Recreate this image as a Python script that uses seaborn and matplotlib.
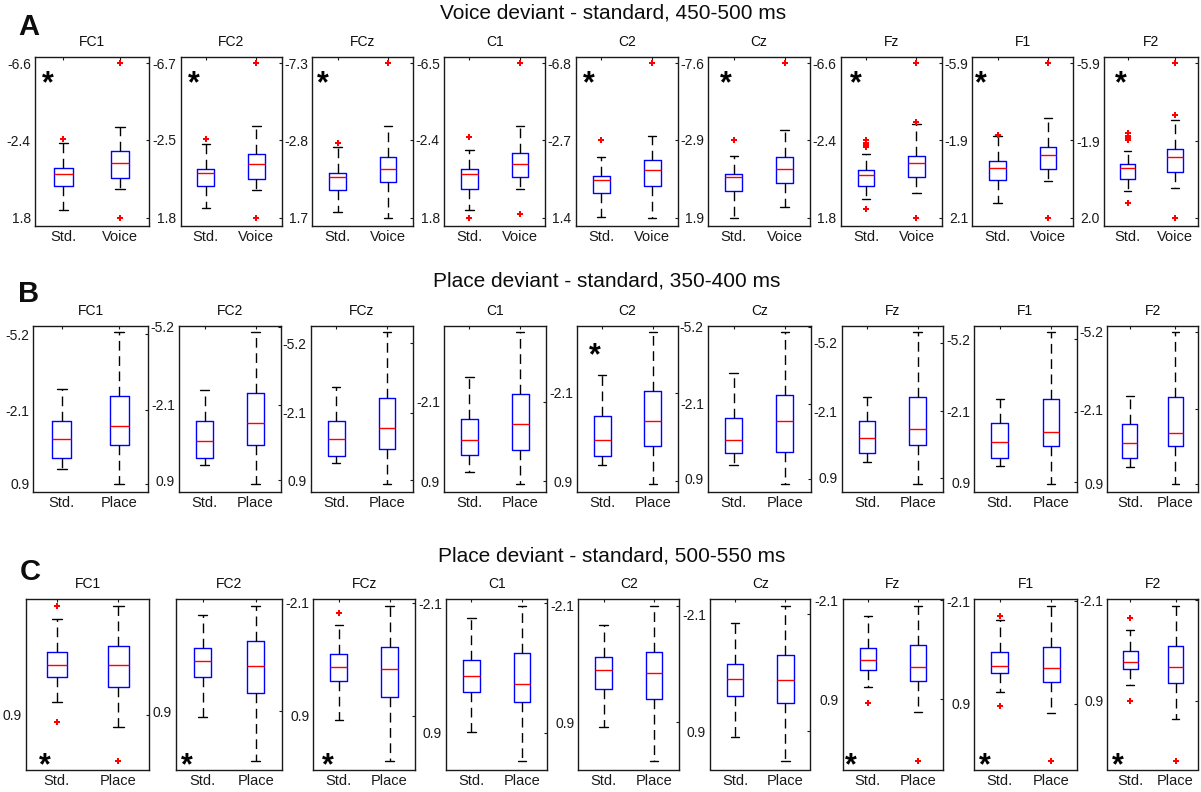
import numpy as np
import pandas as pd
import matplotlib
matplotlib.use("Agg")
import matplotlib.pyplot as plt
import seaborn as sns

electrodes = ["FC1", "FC2", "FCz", "C1", "C2", "Cz", "Fz", "F1", "F2"]

# box summaries per electrode: [lower whisker, q1, median, q3, upper whisker]
# (amplitude axis is drawn negative-up)

# A: voice deviant - standard, 450-500 ms
voice_std = [[-2.24, -0.90, -0.60, 0.08, 1.40], [-2.23, -0.90, -0.63, 0.06, 1.27],
             [-2.43, -0.93, -0.67, 0.12, 1.39], [-1.83, -0.80, -0.57, 0.24, 1.41],
             [-1.83, -0.81, -0.59, 0.12, 1.37], [-1.90, -0.81, -0.60, 0.28, 1.90],
             [-1.64, -0.78, -0.54, 0.08, 0.80], [-2.14, -0.82, -0.48, 0.13, 1.32],
             [-1.40, -0.72, -0.54, 0.04, 0.65]]
voice_std_out = [[-2.47], [-2.52], [-2.68], [-2.54, 1.80], [-2.72], [-2.87],
                 [-2.42, -2.29, -2.18, -2.05, 1.35], [-2.21],
                 [-2.31, -2.19, -2.08, -1.97, 1.28]]
voice_dev = [[-3.14, -1.82, -1.15, -0.33, 0.26], [-3.26, -1.68, -1.18, -0.31, 0.29],
             [-3.65, -1.84, -1.14, -0.40, 1.70], [-3.14, -1.65, -1.06, -0.39, 0.28],
             [-2.94, -1.65, -1.12, -0.28, 1.40], [-3.49, -1.84, -1.08, -0.20, 1.25],
             [-3.30, -1.56, -1.15, -0.41, 0.44], [-3.07, -1.57, -1.17, -0.41, 0.21],
             [-2.99, -1.50, -1.11, -0.34, 0.48]]
voice_dev_out = [[-6.6, 1.8], [-6.7, 1.8], [-7.3], [-6.5, 1.59], [-6.8], [-7.6],
                 [-6.6, -3.40, 1.8], [-5.9, 2.1], [-5.9, -3.28, 2.0]]
voice_ticks = [[-6.6, -2.4, 1.8], [-6.7, -2.5, 1.8], [-7.3, -2.8, 1.7], [-6.5, -2.4, 1.8],
               [-6.8, -2.7, 1.4], [-7.6, -2.9, 1.9], [-6.6, -2.4, 1.8], [-5.9, -1.9, 2.1],
               [-5.9, -1.9, 2.0]]
voice_stars = [1, 1, 1, 0, 1, 1, 1, 1, 1]

# B: place deviant - standard, 350-400 ms
p350_std = [[-2.98, -1.66, -0.94, -0.16, 0.29], [-2.71, -1.46, -0.66, 0.00, 0.30],
            [-3.24, -1.75, -0.92, -0.17, 0.15], [-3.05, -1.47, -0.65, -0.08, 0.55],
            [-2.70, -1.31, -0.49, 0.05, 0.36], [-3.32, -1.55, -0.64, -0.13, 0.37],
            [-2.74, -1.69, -0.90, -0.22, 0.18], [-2.67, -1.63, -0.81, -0.14, 0.23],
            [-2.63, -1.49, -0.74, -0.15, 0.23]]
p350_std_out = [[]] * 9
p350_dev = [[-5.27, -2.67, -1.44, -0.67, 0.90], [-4.98, -2.57, -1.38, -0.49, 1.03],
            [-5.69, -2.75, -1.41, -0.51, 1.05], [-4.73, -2.39, -1.26, -0.30, 0.99],
            [-4.15, -2.17, -1.15, -0.29, 0.98], [-4.97, -2.45, -1.42, -0.17, 1.10],
            [-5.67, -2.74, -1.30, -0.60, 1.16], [-5.50, -2.63, -1.24, -0.63, 0.97],
            [-5.18, -2.57, -1.14, -0.61, 0.90]]
p350_dev_out = [[]] * 9
p350_ticks = [[-5.2, -2.1, 0.9]] * 9
p350_stars = [0, 0, 0, 0, 1, 0, 0, 0, 0]

# C: place deviant - standard, 500-550 ms
p500_std = [[-1.49, -0.66, -0.34, -0.04, 0.59], [-1.65, -0.77, -0.42, -0.01, 1.04],
            [-1.52, -0.75, -0.40, -0.02, 1.01], [-1.77, -0.79, -0.42, -0.04, 0.89],
            [-1.61, -0.79, -0.45, 0.04, 1.01], [-1.87, -0.83, -0.44, -0.01, 1.05],
            [-1.61, -0.65, -0.30, 0.01, 0.52], [-1.56, -0.62, -0.22, 0.00, 0.56],
            [-1.22, -0.60, -0.26, -0.06, 0.44]]
p500_std_out = [[-1.83, 1.07], [], [-1.84], [], [], [], [1.02], [-1.66, 0.95], [-1.57, 0.90]]
p500_dev = [[-1.83, -0.83, -0.34, 0.21, 1.21], [-1.90, -0.95, -0.30, 0.40, 2.21],
            [-2.03, -0.93, -0.34, 0.40, 2.10], [-2.05, -0.95, -0.22, 0.20, 1.56],
            [-2.10, -0.90, -0.36, 0.30, 1.89], [-2.33, -1.05, -0.42, 0.18, 1.67],
            [-1.94, -0.73, -0.09, 0.34, 1.30], [-1.97, -0.75, -0.16, 0.26, 1.17],
            [-1.94, -0.72, -0.10, 0.37, 1.44]]
p500_dev_out = [[2.05], [], [], [], [], [], [2.77], [2.56], [2.69]]
p500_ticks = [[-2.1, 0.9]] * 9
p500_stars = [1, 1, 1, 0, 0, 0, 1, 1, 1]

rows = [
    dict(letter="A", title="Voice deviant - standard, 450-500 ms", dev="Voice",
         std=voice_std, std_out=voice_std_out, dvals=voice_dev, dev_out=voice_dev_out,
         ticks=voice_ticks, stars=voice_stars),
    dict(letter="B", title="Place deviant - standard, 350-400 ms", dev="Place",
         std=p350_std, std_out=p350_std_out, dvals=p350_dev, dev_out=p350_dev_out,
         ticks=p350_ticks, stars=p350_stars),
    dict(letter="C", title="Place deviant - standard, 500-550 ms", dev="Place",
         std=p500_std, std_out=p500_std_out, dvals=p500_dev, dev_out=p500_dev_out,
         ticks=p500_ticks, stars=p500_stars),
]

# layout in pixels
W, H = 1201, 792
row_top = [57, 326, 599]
row_bot = [226, 492, 769.5]
row_edges = [
    [(35, 148.5), (180.5, 281.7), (312.3, 413.3), (444, 545.3), (575.7, 677.7),
     (708.3, 810), (840.7, 941.7), (972.3, 1073.3), (1104, 1198.3)],
    [(33.3, 147.7), (179, 281), (310.7, 412.5), (444, 545.7), (577, 678),
     (708, 810.5), (841.7, 943), (974.3, 1076.5), (1107.3, 1198)],
    [(26, 149.3), (176, 282.3), (313.3, 415), (446, 547.3), (578.3, 679.3),
     (710, 810.5), (842.7, 943.3), (974.3, 1076.7), (1107.3, 1198.3)],
]
star_x = [[0.11, 0.13, 0.10, 0.12, 0.13, 0.17, 0.15, 0.085, 0.18],
          [0.18] * 9,
          [0.155, 0.10, 0.145, 0.12, 0.12, 0.12, 0.083, 0.098, 0.114]]
star_y = [0.893, 0.872, 0.072]
title_y = [13, 281, 556]
title_x = [613, 607, 612]
letter_xy = [(29, 27), (29, 294), (30, 572)]

sns.set_style("white", {"axes.edgecolor": "0.1", "text.color": "0.05",
                        "xtick.color": "0.1", "ytick.color": "0.1"})
plt.rcParams["font.family"] = ["Liberation Sans", "DejaVu Sans"]

fig = plt.figure(figsize=(W / 100, H / 100), dpi=100)

for r, row in enumerate(rows):
    fig.text(title_x[r] / W, 1 - title_y[r] / H, row["title"], ha="center", va="center",
             fontsize=15)
    fig.text(letter_xy[r][0] / W, 1 - letter_xy[r][1] / H, row["letter"], ha="center",
             va="center", fontsize=21, fontweight="bold")
    for i, name in enumerate(electrodes):
        l, rr = row_edges[r][i]
        t, b = row_top[r], row_bot[r]
        ax = fig.add_axes([l / W, 1 - b / H, (rr - l) / W, (b - t) / H])
        order = ["Std.", row["dev"]]
        std, dev = row["std"][i], row["dvals"][i]
        df = pd.DataFrame({"cond": [order[0]] * len(std) + [order[1]] * len(dev),
                           "amp": std + dev})
        sns.boxplot(data=df, x="cond", y="amp", order=order, whis=(0, 100), width=0.33,
                    fill=False, linewidth=1.0, ax=ax,
                    boxprops=dict(color="blue"), medianprops=dict(color="red"),
                    whiskerprops=dict(color="black", linestyle=(0, (7, 4))),
                    capprops=dict(color="black"))
        so, do = row["std_out"][i], row["dev_out"][i]
        if len(so) + len(do) > 0:
            out = pd.DataFrame({"cond": [order[0]] * len(so) + [order[1]] * len(do),
                                "amp": so + do})
            sns.stripplot(data=out, x="cond", y="amp", order=order, jitter=False,
                          marker="P", color="red", size=5, linewidth=0, ax=ax, zorder=5)

        ticks = row["ticks"][i]
        ax.set_yticks(ticks)
        ax.set_yticklabels([f"{v:.1f}" for v in ticks])
        # limits after the ticks, so ticks outside the data range stay hidden
        vals = std + dev + so + do
        lo, hi = min(vals), max(vals)
        span = hi - lo
        ax.set_ylim(hi + 0.055 * span, lo - 0.042 * span)
        ax.set_xlim(-0.5, 1.5)
        ax.set_xlabel("")
        ax.set_ylabel("")
        ax.set_title(name, fontsize=10, pad=8)
        ax.tick_params(axis="both", direction="in", length=2.5, width=0.8,
                       top=True, right=True, pad=3)
        ax.tick_params(axis="y", labelsize=10)
        ax.tick_params(axis="x", labelsize=10.5)
        for sp in ax.spines.values():
            sp.set_linewidth(1.0)
            sp.set_color("0.1")
        if row["stars"][i]:
            ax.annotate("*", xy=(star_x[r][i], star_y[r]), xycoords="axes fraction",
                        xytext=(0, -12.3), textcoords="offset points", ha="center",
                        va="baseline", fontsize=22, fontweight="bold", color="black")

fig.savefig("out.png", dpi=100)
